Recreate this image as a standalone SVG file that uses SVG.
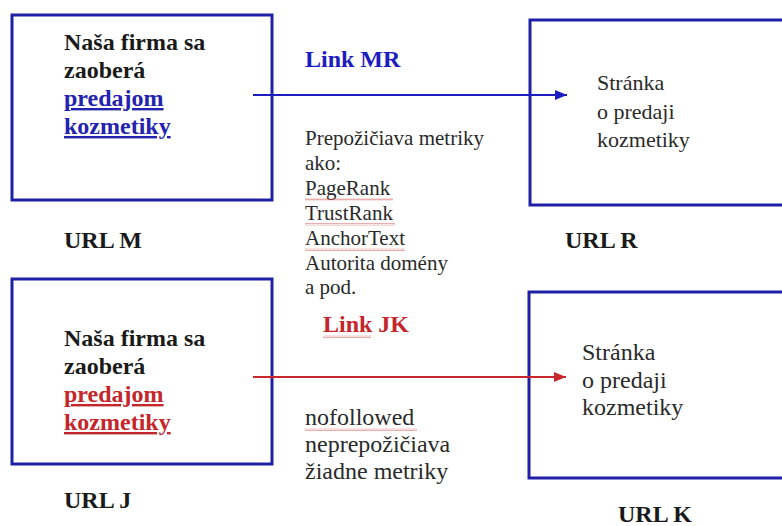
<svg xmlns="http://www.w3.org/2000/svg" width="782" height="526" viewBox="0 0 782 526" font-family="Liberation Serif, Tinos, Times New Roman, DejaVu Serif, serif">
<style>
.box{fill:none;stroke:#1f1fa8;stroke-width:3}
.b{font-weight:bold;font-size:24px;fill:#1a1a1a}
.r{font-size:22px;fill:#2a2a2a}
.r24{font-size:24px;fill:#2a2a2a}
.m{font-size:21px;fill:#2a2a2a}
.lb{fill:#2323b0;text-decoration:underline}
.lr{fill:#c4262b;text-decoration:underline}
.cb{stroke:#1c1cc0;stroke-width:2;fill:none}
.cr{stroke:#c8282d;stroke-width:2;fill:none}
.sq{fill:url(#wavy);opacity:0.6}
</style>
<defs>
<marker id="ab" markerWidth="12" markerHeight="10" refX="12" refY="5" orient="auto" markerUnits="userSpaceOnUse"><path d="M0,0 L12,5 L0,10 Z" fill="#1c1cc0"/></marker>
<marker id="ar" markerWidth="12" markerHeight="10" refX="12" refY="5" orient="auto" markerUnits="userSpaceOnUse"><path d="M0,0 L12,5 L0,10 Z" fill="#c8282d"/></marker>
<pattern id="wavy" width="4" height="3" patternUnits="userSpaceOnUse"><path d="M0,2.5 L1,0.5 L2,2.5 L3,0.5 L4,2.5" stroke="#d04040" stroke-width="0.7" fill="none"/></pattern>
</defs>
<rect width="782" height="526" fill="#ffffff"/>

<g id="nodeM">
<rect class="box" x="12" y="15" width="260" height="185"/>
<text class="b" x="64" y="50">Naša firma sa</text>
<text class="b" x="64" y="78">zaoberá</text>
<text class="b lb" x="64" y="106">predajom</text>
<text class="b lb" x="64" y="134">kozmetiky</text>
</g>
<g id="labelM"><text class="b" x="64" y="248">URL M</text></g>

<g id="nodeR">
<rect class="box" x="530" y="20" width="270" height="185"/>
<text class="r" x="597" y="90">Stránka</text>
<text class="r" x="597" y="119">o predaji</text>
<text class="r" x="597" y="147">kozmetiky</text>
</g>
<g id="labelR"><text class="b" x="565" y="248">URL R</text></g>

<g id="nodeJ">
<rect class="box" x="12" y="279" width="260" height="185"/>
<text class="b" x="64" y="346">Naša firma sa</text>
<text class="b" x="64" y="374">zaoberá</text>
<text class="b lr" x="64" y="402">predajom</text>
<text class="b lr" x="64" y="430">kozmetiky</text>
</g>
<g id="labelJ"><text class="b" x="64" y="508">URL J</text></g>

<g id="nodeK">
<rect class="box" x="529" y="292" width="270" height="186"/>
<text class="r24" x="582" y="360">Stránka</text>
<text class="r24" x="582" y="388">o predaji</text>
<text class="r24" x="582" y="415">kozmetiky</text>
</g>
<g id="labelK"><text class="b" x="618" y="522">URL K</text></g>

<g id="connectors">
<line class="cb" x1="253" y1="95" x2="567" y2="95" marker-end="url(#ab)"/>
<line class="cr" x1="253" y1="377" x2="566" y2="377" marker-end="url(#ar)"/>
</g>

<g id="notesMR">
<text class="b" x="305" y="67" style="fill:#1c1cc0">Link MR</text>
<text class="m" x="305" y="145">Prepožičiava metriky</text>
<text class="m" x="305" y="170">ako:</text>
<text class="m" x="305" y="195">PageRank</text>
<text class="m" x="305" y="220">TrustRank</text>
<text class="m" x="305" y="245">AnchorText</text>
<text class="m" x="305" y="270">Autorita domény</text>
<text class="m" x="305" y="294">a pod.</text>
<rect class="sq" x="305" y="198" width="88" height="3"/>
<rect class="sq" x="305" y="223" width="90" height="3"/>
<rect class="sq" x="305" y="248" width="100" height="3"/>
</g>

<g id="notesJK">
<text class="b" x="323" y="332" style="fill:#c4262b">Link JK</text>
<rect class="sq" x="323" y="335" width="48" height="3"/>
<text class="r24" x="305" y="425">nofollowed</text>
<rect class="sq" x="305" y="428" width="112" height="3"/>
<text class="r24" x="305" y="452">neprepožičiava</text>
<text class="r24" x="305" y="479">žiadne metriky</text>
</g>
</svg>
